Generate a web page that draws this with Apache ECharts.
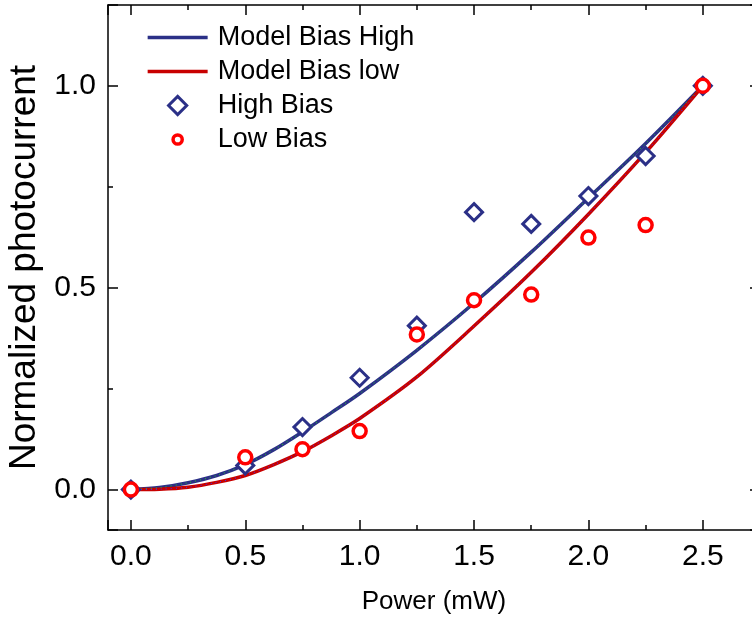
<!DOCTYPE html>
<html><head><meta charset="utf-8">
<script src="https://cdn.jsdelivr.net/npm/echarts@6/dist/echarts.min.js"></script>
<style>html,body{margin:0;padding:0;background:#fff}#chart{width:752px;height:622px}</style>
</head><body><div id="chart"></div>
<script>
// Measured data points
const powerX = [0, 0.5, 0.75, 1.0, 1.25, 1.5, 1.75, 2.0, 2.25, 2.5];
const highBias = [0, 0.060, 0.155, 0.277, 0.406, 0.687, 0.658, 0.727, 0.826, 1.0];
const lowBias = [0, 0.080, 0.100, 0.145, 0.384, 0.469, 0.483, 0.624, 0.655, 1.0];
// Model curves
const modelX = [0, 0.125, 0.25, 0.375, 0.5, 0.625, 0.75, 0.875, 1.0, 1.25, 1.5, 1.75, 2.0, 2.25, 2.5];
const modelHigh = [0, 0.005, 0.017, 0.035, 0.062, 0.099, 0.143, 0.190, 0.238, 0.345, 0.462, 0.588, 0.722, 0.857, 1.0];
const modelLow = [0, 0.001, 0.006, 0.018, 0.035, 0.062, 0.094, 0.133, 0.176, 0.279, 0.405, 0.538, 0.682, 0.835, 1.0];
const seriesNames = ['Model Bias High', 'Model Bias low', 'High Bias', 'Low Bias'];
const xName = 'Power (mW)';
const yName = 'Normalized photocurrent';

const FONT = 'Liberation Sans, Arial, sans-serif';
const pair = (xs, ys) => xs.map((x, i) => [x, ys[i]]);
const fmt = v => (Math.abs(v * 2 - Math.round(v * 2)) < 1e-6 ? v.toFixed(1) : '');
const blk = {color: '#000', width: 1.5};
const NAVY = '#2b3087';
const DARKRED = '#c80000';

function axis(kind, pos, showLabel) {
  const isX = kind === 'x';
  const a = {
    type: 'value', position: pos,
    min: -0.1, max: isX ? 2.75 : 1.2,
    minInterval: 0.5, maxInterval: 0.5,
    splitLine: {show: false},
    axisLine: {show: true, onZero: false, lineStyle: blk},
    axisTick: {show: true, inside: true, length: 10, lineStyle: blk},
    minorTick: {show: true, splitNumber: 2, length: 5, lineStyle: blk},
    axisLabel: {show: showLabel, fontSize: 30, color: '#000', fontFamily: FONT,
                margin: 12, formatter: fmt}
  };
  if (showLabel) {
    a.name = isX ? xName : yName;
    a.nameLocation = 'middle';
    a.nameGap = isX ? 59 : 47;
    a.nameTextStyle = {fontSize: isX ? 26 : 37, color: '#000', fontFamily: FONT};
  }
  return a;
}

const chart = echarts.init(document.getElementById('chart'), null, {renderer: 'canvas'});
chart.setOption({
  animation: false,
  backgroundColor: '#fff',
  grid: {left: 108, top: 5, width: 652, height: 525, outerBoundsMode: 'none', containLabel: false},
  xAxis: [axis('x', 'bottom', true), axis('x', 'top', false)],
  yAxis: [axis('y', 'left', true), axis('y', 'right', false)],
  legend: {
    orient: 'vertical', left: 141, top: 19,
    itemWidth: 60, itemHeight: 19, itemGap: 7, symbolKeepAspect: true,
    data: [
      {name: seriesNames[0], itemStyle: {opacity: 0}, lineStyle: {width: 3.3, color: NAVY}},
      {name: seriesNames[1], itemStyle: {opacity: 0}, lineStyle: {width: 3.3, color: DARKRED}},
      {name: seriesNames[2], itemStyle: {borderWidth: 3},
       icon: 'path://M0,0M22,22M11,0.5L21.5,11L11,21.5L0.5,11Z'},
      {name: seriesNames[3], itemStyle: {borderWidth: 3.5},
       icon: 'path://M0,0M22,22M11,5.7A5.3,5.3,0,1,1,11,16.3A5.3,5.3,0,1,1,11,5.7Z'}
    ],
    textStyle: {fontSize: 27, color: '#000', fontFamily: FONT, lineHeight: 26, padding: [0, 0, 0, 5]}
  },
  series: [
    {name: seriesNames[0], type: 'line', data: pair(modelX, modelHigh), smooth: 0.3,
     symbol: 'none', lineStyle: {color: NAVY, width: 3.5}, itemStyle: {color: NAVY}, z: 2},
    {name: seriesNames[1], type: 'line', data: pair(modelX, modelLow), smooth: 0.3,
     symbol: 'none', lineStyle: {color: DARKRED, width: 3.5}, itemStyle: {color: DARKRED}, z: 2},
    {name: 'fitHigh', type: 'line', data: pair(modelX, modelHigh), smooth: 0.3,
     symbol: 'none', lineStyle: {color: '#22cc22', width: 1, type: [1, 4]}, z: 3, silent: true},
    {name: 'fitLow', type: 'line', data: pair(modelX, modelLow), smooth: 0.3,
     symbol: 'none', lineStyle: {color: '#3333ff', width: 1, type: [1, 4]}, z: 3, silent: true},
    {name: seriesNames[2], type: 'scatter', data: pair(powerX, highBias), symbol: 'diamond',
     symbolSize: 17,
     itemStyle: {color: '#ffffff', borderColor: NAVY, borderWidth: 3, opacity: 1}, z: 4},
    {name: seriesNames[3], type: 'scatter', data: pair(powerX, lowBias), symbol: 'circle',
     symbolSize: 13,
     itemStyle: {color: '#ffffff', borderColor: '#ff0000', borderWidth: 3.5, opacity: 1}, z: 5}
  ]
});
</script></body></html>
